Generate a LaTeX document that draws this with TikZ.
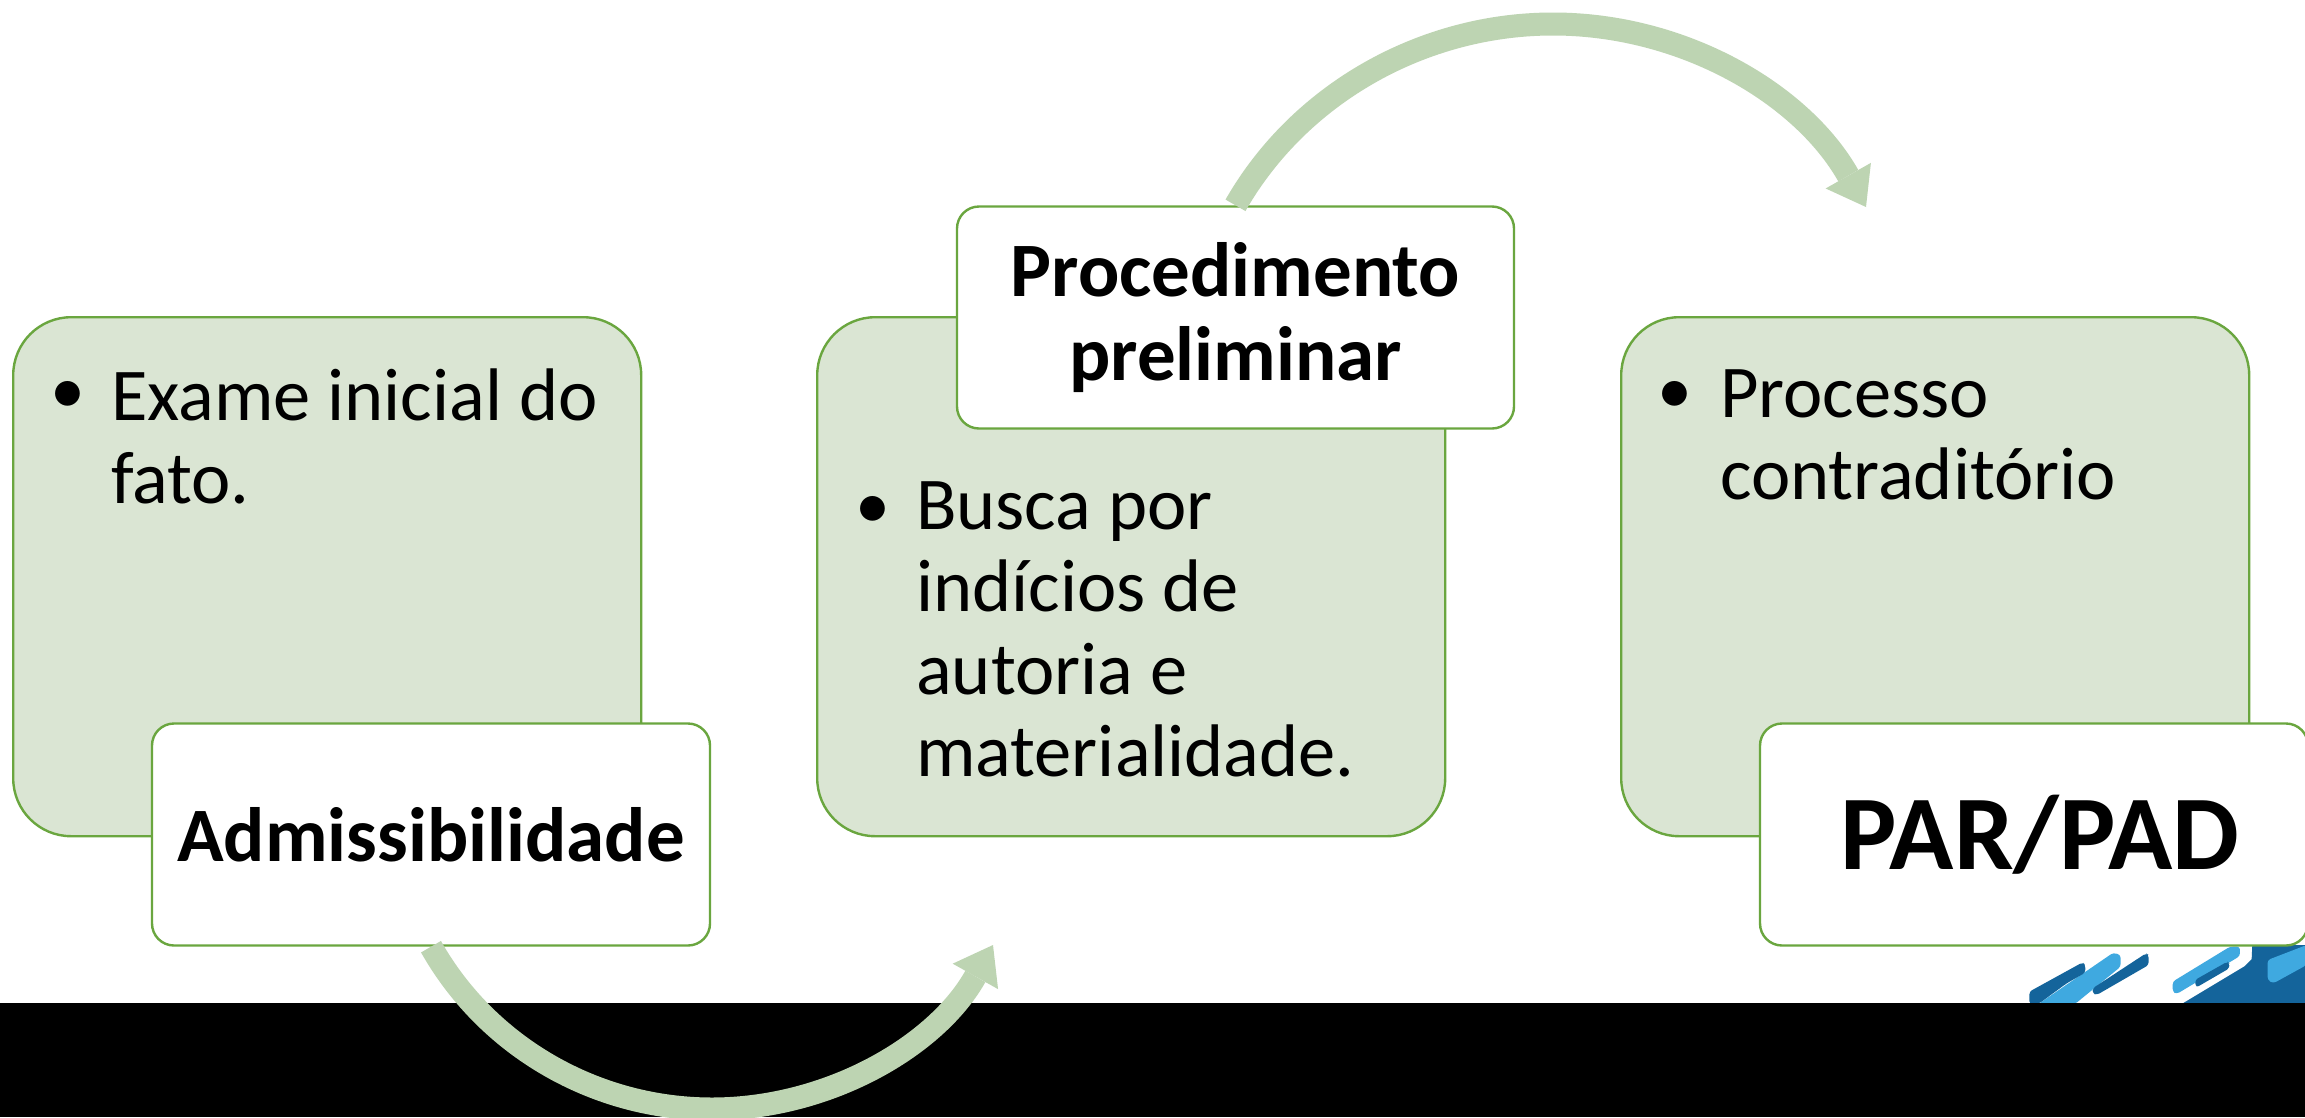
\documentclass[tikz,border=0pt]{standalone}
\usepackage{fontspec}
\setmainfont{Carlito}
\usetikzlibrary{arrows.meta}
\pgfdeclarelayer{back}
\pgfdeclarelayer{band}
\pgfsetlayers{back,band,main}
\definecolor{boxgreen}{HTML}{DAE5D3}
\definecolor{edgegreen}{HTML}{6AA63F}
\definecolor{arrowgreen}{HTML}{BDD4B2}
\definecolor{logodark}{HTML}{14649B}
\definecolor{logolight}{HTML}{3FA9E0}
\tikzset{
  panel/.style={draw=edgegreen,line width=2.4pt,fill=boxgreen,rounded corners=58pt,inner sep=0pt,anchor=north west,minimum width=#1,minimum height=519pt},
  titlebox/.style={draw=edgegreen,line width=2.4pt,fill=white,rounded corners=22pt,inner sep=0pt,align=center,minimum height=222pt,font=\bfseries\fontsize{77}{84}\selectfont},
  bodytext/.style={inner sep=0pt,anchor=north west,align=left,font=\fontsize{74.5}{82.5}\selectfont},
  bulletmark/.style={inner sep=0pt,anchor=north west,font=\fontsize{70}{82}\selectfont},
  flow/.style={draw=arrowgreen,line width=23pt,-{Triangle[length=36pt,width=52pt,line width=0pt]}},
  logoa/.style={fill=logodark,rounded corners=3pt},
  logob/.style={fill=logolight,rounded corners=3pt}
}
\begin{document}
\begin{tikzpicture}[x=1pt,y=-1pt]
\useasboundingbox (0,0) rectangle (2305,1117);
\clip (0,0) rectangle (2305,1117);
\begin{pgfonlayer}{back}
  \fill[white] (0,0) rectangle (2305,1117);
  \begin{scope}[shift={(1900,880)},x=.3333pt,y=-.3333pt]
    \fill[logob] (415,372) -- (640,218) -- (662,225) -- (662,260) -- (525,372) -- cycle;
    \fill[logoa] (388,372) -- (388,335) -- (548,247) -- (556,255) -- (556,278) -- (500,310) -- (415,372) -- cycle;
    \fill[logoa] (578,325) -- (738,220) -- (746,225) -- (746,255) -- (590,345) -- (578,340) -- cycle;
    \fill[logob] (818,305) -- (990,200) -- (1020,200) -- (1020,228) -- (830,342) -- (818,335) -- cycle;
    \fill[logoa] (885,300) -- (982,245) -- (988,250) -- (988,265) -- (888,323) -- cycle;
    \fill[logoa,rounded corners=0pt] (845,372) -- (1035,258) -- (1055,238) -- (1057,195) -- (1220,195) -- (1220,372) -- cycle;
    \fill[logob] (1103,240) -- (1220,195) -- (1220,255) -- (1120,310) -- (1103,300) -- cycle;
  \end{scope}
\end{pgfonlayer}
\begin{pgfonlayer}{band}
  \fill[black] (0,1003) rectangle (2305,1117);
\end{pgfonlayer}
% panels
\node[panel=628pt] (p1) at (12,316) {};
\node[panel=628pt] (p2) at (816,316) {};
\node[panel=628pt] (p3) at (1620,316) {};
% title boxes
\node[titlebox,minimum width=558pt] (adm) at (431,834.5) {Admissibilidade};
\node[titlebox,minimum width=557pt] (proc) at (1235.5,317.5) {Procedimento\\preliminar};
\node[titlebox,minimum width=548pt,font=\bfseries\fontsize{106}{120}\selectfont] (par) at (2034,834.5) {\hspace{12pt}PAR/PAD};
% body text
\node[bulletmark] (b1) at (50,381) {•};
\node[bodytext] (t1) at (111,369) {Exame inicial do\\fato.};
\node[bulletmark] (b2) at (855,496) {•};
\node[bodytext] (t2) at (916,481) {Busca por\\indícios de\\autoria e\\materialidade.};
\node[bulletmark] (b3) at (1657,381) {•};
\node[bodytext] (t3) at (1720,369) {Processo\\contraditório};
% connectors
\coordinate (tipa) at (993,945);
\coordinate (tipb) at (1866,207);
\draw[flow] (adm.south) .. controls (487.8,1047.2) and (596,1109) .. (712,1109) .. controls (828,1109) and (936.2,1046.2) .. (tipa);
\draw[flow] (proc.north) .. controls (1299.6,93.2) and (1423,24) .. (1553,24) .. controls (1683,24) and (1801.9,93.7) .. (tipb);
\end{tikzpicture}
\end{document}
